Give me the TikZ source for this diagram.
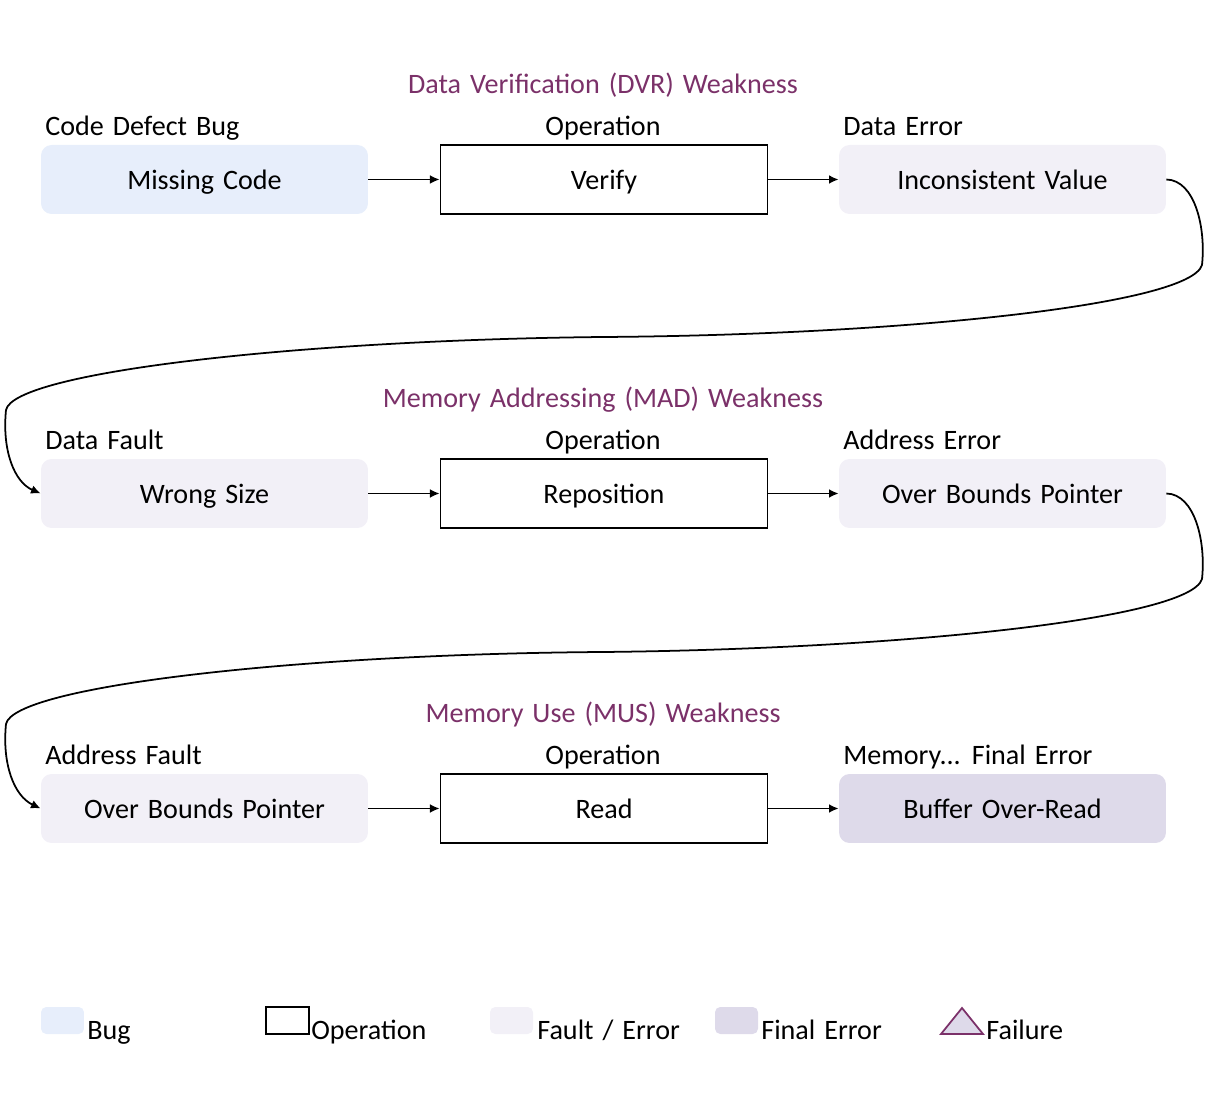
\documentclass[tikz,border=0pt]{standalone}
\usepackage{fontspec}
\setmainfont{Carlito}
\usepackage{tikz}
\usetikzlibrary{arrows.meta}
\usetikzlibrary{calc}

\definecolor{bugfill}{RGB}{231,238,251}
\definecolor{faultfill}{RGB}{242,240,247}
\definecolor{finalfill}{RGB}{222,218,234}
\definecolor{weakpurple}{RGB}{123,49,105}
\newcommand\widespaces{\spaceskip=0.32em\relax}

\begin{document}
\begin{tikzpicture}[x=0.02cm,y=-0.02cm,>/.tip={Latex[length=5.5pt,width=5pt]},
	font=\fontsize{16}{19}\selectfont\widespaces,
	box/.style={minimum width=6.54cm,minimum height=1.38cm,inner sep=0pt,text height=11.4pt,text depth=0pt},
	bugbox/.style={box,rounded corners=6pt,fill=bugfill},
	opbox/.style={box,draw,line width=1pt},
	faultbox/.style={box,rounded corners=6pt,fill=faultfill},
	finalbox/.style={box,rounded corners=6pt,fill=finalfill},
	weak/.style={text=weakpurple,anchor=base},
	tag/.style={anchor=base west,inner sep=0pt},
	optag/.style={anchor=base,inner sep=0pt},
	link/.style={->,line width=1pt}]
	\useasboundingbox (0,0) rectangle (1207,1097);

	% DVR row
	\draw (603,94) node (dvr) [weak] {Data Verification (DVR) Weakness};
	\draw (204.5,179.5) node (MC) [bugbox] {Missing Code};
	\draw (604,179.5) node (VF) [opbox] {Verify};
	\draw (1002.5,179.5) node (IV) [faultbox] {Inconsistent Value};
	\node [tag] (MCt) at (45,136) {Code Defect Bug};
	\node [optag] (VFt) at (603,136) {Operation};
	\node [tag] (IVt) at (843,136) {Data Error};

	% MAD row
	\draw (603,408) node (mad) [weak] {Memory Addressing (MAD) Weakness};
	\draw (204.5,493.5) node (WS) [faultbox] {Wrong Size};
	\draw (604,493.5) node (RP) [opbox] {Reposition};
	\draw (1002.5,493.5) node (OB) [faultbox] {Over Bounds Pointer};
	\node [tag] (WSt) at (45,450) {Data Fault};
	\node [optag] (RPt) at (603,450) {Operation};
	\node [tag] (OBt) at (843,450) {Address Error};

	% MUS row
	\draw (603,723) node (mus) [weak] {Memory Use (MUS) Weakness};
	\draw (204.5,808.5) node (OP) [faultbox] {Over Bounds Pointer};
	\draw (604,808.5) node (RD) [opbox] {Read};
	\draw (1002.5,808.5) node (BO) [finalbox] {Buffer Over-Read};
	\node [tag] (OPt) at (45,765) {Address Fault};
	\node [optag] (RDt) at (603,765) {Operation};
	\node [tag] (BOt) at (843,765) {Memory... Final Error};

	\draw[link] (MC) -- (VF);
	\draw[link] (VF) -- (IV);
	\draw[link] (WS) -- (RP);
	\draw[link] (RP) -- (OB);
	\draw[link] (OP) -- (RD);
	\draw[link] (RD) -- (BO);

	\coordinate (m1) at (603,337);
	\coordinate (m2) at (603,652);
	\draw[link] (IV.east) .. controls (1195,180) and (1206,228) .. (1202,265)
		.. controls (1190,305) and (900,335) .. (m1)
		.. controls (300,340) and (14,372) .. (6,410)
		.. controls (2,450) and (14,482) .. (WS.west);
	\draw[link] (OB.east) .. controls (1195,494) and (1206,542) .. (1202,579)
		.. controls (1190,619) and (900,649) .. (m2)
		.. controls (300,654) and (14,686) .. (6,724)
		.. controls (2,764) and (14,796) .. (OP.west);

	% legend
	\draw (62.5,1020.5) node (lbug) [fill=bugfill,rounded corners=3pt,minimum width=0.86cm,minimum height=0.54cm,inner sep=0pt] {};
	\node [tag] at (87,1039) {Bug};
	\draw (287.5,1020.5) node (lop) [draw,line width=1pt,minimum width=0.86cm,minimum height=0.54cm,inner sep=0pt] {};
	\node [tag] at (311,1039) {Operation};
	\draw (511.5,1020.5) node (lfault) [fill=faultfill,rounded corners=3pt,minimum width=0.86cm,minimum height=0.54cm,inner sep=0pt] {};
	\node [tag] at (537,1039) {Fault / Error};
	\draw (736.5,1020.5) node (lfinal) [fill=finalfill,rounded corners=3pt,minimum width=0.86cm,minimum height=0.54cm,inner sep=0pt] {};
	\node [tag] at (761,1039) {Final Error};
	\draw[fill=finalfill,draw=weakpurple,line width=1pt] (941,1034) -- (962,1008) -- (983,1034) -- cycle;
	\node [tag] at (986,1039) {Failure};
\end{tikzpicture}
\end{document}
